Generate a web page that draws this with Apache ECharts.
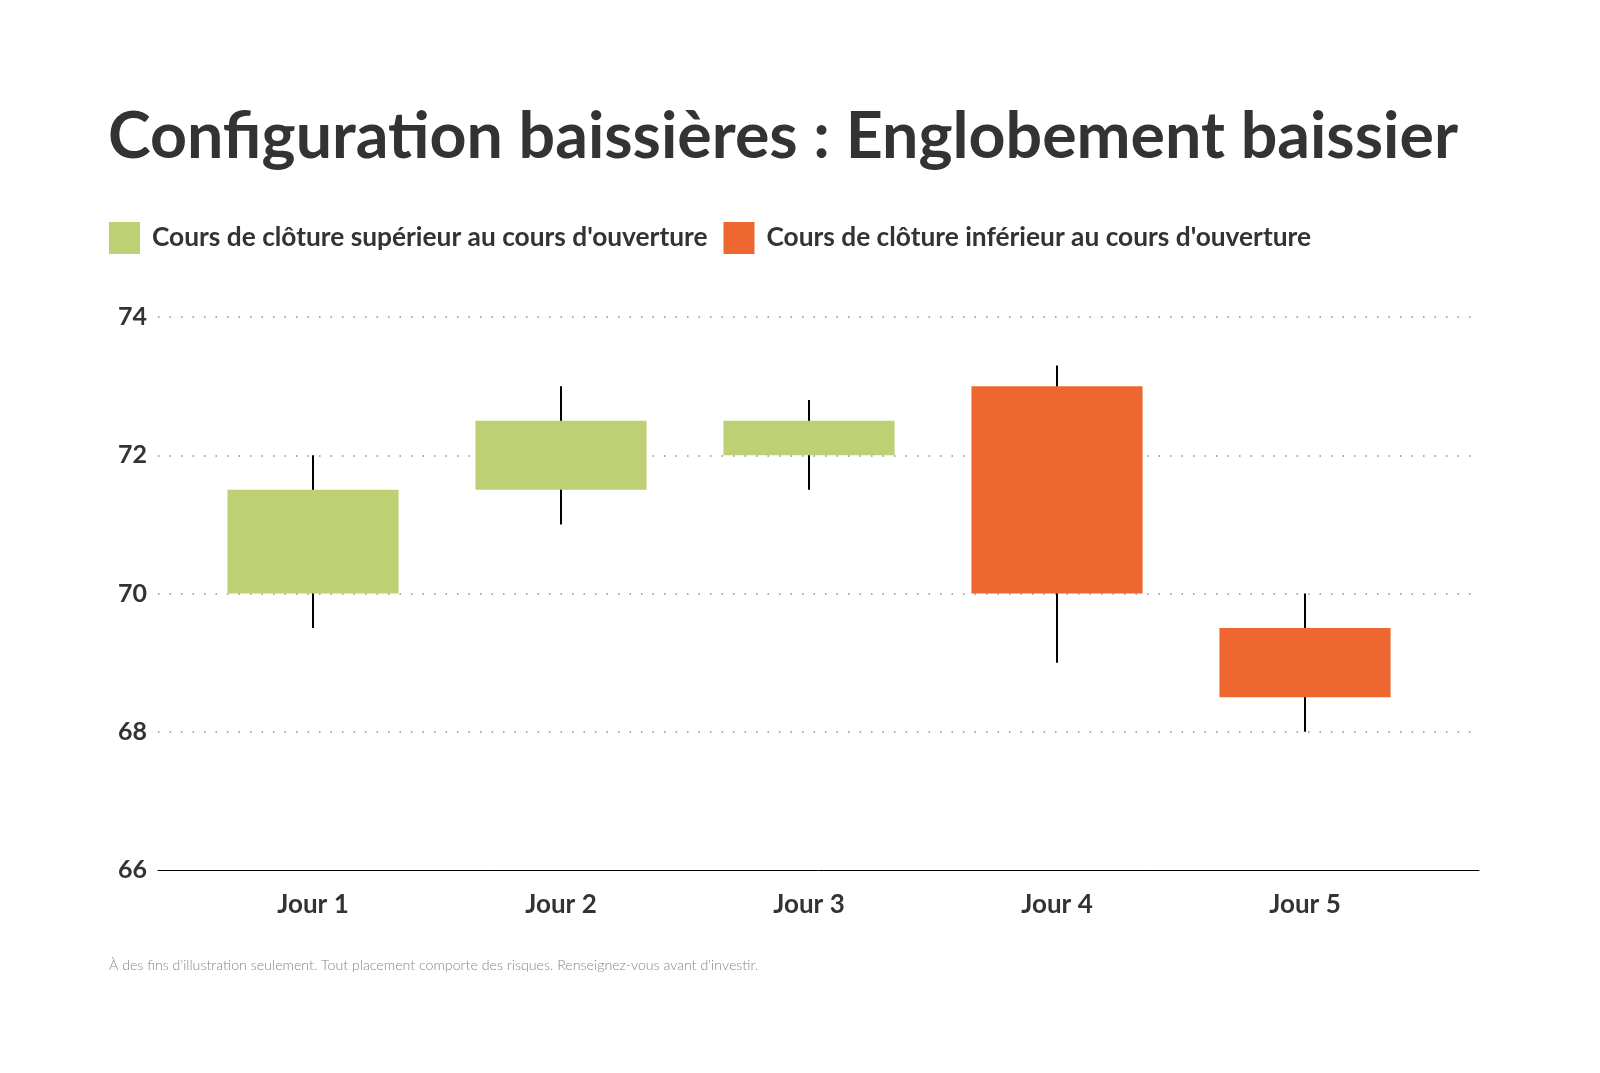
<!DOCTYPE html>
<html>
<head>
<meta charset="utf-8">
<title>Configuration baissières : Englobement baissier</title>
<script src="https://cdn.jsdelivr.net/npm/echarts@6/dist/echarts.min.js"></script>
<style>
  html, body { margin: 0; padding: 0; background: #fff; }
  #chart { width: 1600px; height: 1073px; }
</style>
</head>
<body>
<div id="chart"></div>
<script>
// chart values
const days = ["Jour 1", "Jour 2", "Jour 3", "Jour 4", "Jour 5"];
const openValues = [70, 71.5, 72, 73, 69.5];
const closeValues = [71.5, 72.5, 72.5, 70, 68.5];
const lowValues = [69.5, 71, 71.5, 69, 68];
const highValues = [72, 73, 72.8, 73.3, 70];
const yTicks = [66, 68, 70, 72, 74];

const upName = "Cours de clôture supérieur au cours d'ouverture";
const downName = "Cours de clôture inférieur au cours d'ouverture";
const upColor = "#BDD074";
const downColor = "#EE6731";
const textColor = "#333333";
const font = "Lato, 'Noto Sans', sans-serif";

// rows: [day, open, close, low, high]
const upRows = [];
const downRows = [];
days.forEach((d, i) => {
  const row = [d, openValues[i], closeValues[i], lowValues[i], highValues[i]];
  (closeValues[i] >= openValues[i] ? upRows : downRows).push(row);
});

function renderCandle(params, api) {
  const x = api.value(0);
  const o = api.coord([x, api.value(1)]);
  const c = api.coord([x, api.value(2)]);
  const lo = api.coord([x, api.value(3)]);
  const hi = api.coord([x, api.value(4)]);
  const w = api.size([1, 0])[0] * 0.69;
  return {
    type: "group",
    children: [
      {
        type: "line",
        shape: { x1: lo[0], y1: lo[1], x2: hi[0], y2: hi[1] },
        style: { stroke: "#000", lineWidth: 2 }
      },
      {
        type: "rect",
        shape: {
          x: o[0] - w / 2,
          y: Math.min(o[1], c[1]),
          width: w,
          height: Math.abs(o[1] - c[1])
        },
        style: { fill: api.visual("color") }
      }
    ]
  };
}

const yMin = yTicks[0];
const yMax = yTicks[yTicks.length - 1];
const yStep = yTicks[1] - yTicks[0];

const chart = echarts.init(document.getElementById("chart"), null, { renderer: "canvas" });

chart.setOption({
  backgroundColor: "#ffffff",
  animation: false,
  textStyle: { fontFamily: font },
  title: [
    {
      text: "Configuration baissières : Englobement baissier",
      left: 103,
      top: 100,
      textStyle: { fontFamily: font, fontSize: 64.5, fontWeight: "bold", color: textColor }
    },
    {
      text: "À des fins d'illustration seulement. Tout placement comporte des risques. Renseignez-vous avant d'investir.",
      left: 104,
      top: 953,
      textStyle: { fontFamily: font, fontSize: 14.2, fontWeight: 300, color: "#858585" }
    }
  ],
  legend: {
    left: 104,
    top: 217,
    itemWidth: 31,
    itemHeight: 32,
    itemGap: 16,
    icon: "rect",
    data: [upName, downName],
    textStyle: {
      fontFamily: font,
      fontSize: 26.3,
      fontWeight: "bold",
      color: textColor,
      padding: [4, 0, 0, 7]
    }
  },
  grid: [
    { left: 158, right: 121, top: 317, bottom: 203 },
    { left: 189, right: 171, top: 317, bottom: 203 }
  ],
  xAxis: [
    {
      gridIndex: 0,
      type: "value",
      min: 0,
      max: 1,
      axisLine: { show: true, onZero: false, lineStyle: { color: "#000", width: 1 } },
      axisTick: { show: false },
      axisLabel: { show: false },
      splitLine: { show: false }
    },
    {
      gridIndex: 1,
      type: "category",
      data: days,
      boundaryGap: true,
      axisLine: { show: false },
      axisTick: { show: false },
      axisLabel: {
        margin: 22,
        fontFamily: font,
        fontSize: 26,
        fontWeight: "bold",
        color: textColor
      }
    }
  ],
  yAxis: [
    {
      gridIndex: 0,
      type: "value",
      min: yMin,
      max: yMax,
      interval: yStep,
      axisLine: { show: false },
      axisTick: { show: false },
      axisLabel: {
        margin: 11,
        fontFamily: font,
        fontSize: 25,
        fontWeight: "bold",
        color: textColor
      },
      splitLine: {
        show: true,
        showMinLine: false,
        lineStyle: { color: "#8f8f8f", width: 1.5, type: [1.5, 10] }
      }
    },
    {
      gridIndex: 1,
      type: "value",
      min: yMin,
      max: yMax,
      interval: yStep,
      show: false,
      splitLine: { show: false }
    }
  ],
  series: [
    {
      name: upName,
      type: "custom",
      xAxisIndex: 1,
      yAxisIndex: 1,
      itemStyle: { color: upColor },
      encode: { x: 0, y: [1, 2, 3, 4] },
      renderItem: renderCandle,
      data: upRows
    },
    {
      name: downName,
      type: "custom",
      xAxisIndex: 1,
      yAxisIndex: 1,
      itemStyle: { color: downColor },
      encode: { x: 0, y: [1, 2, 3, 4] },
      renderItem: renderCandle,
      data: downRows
    }
  ]
});

window.addEventListener("resize", () => chart.resize());
</script>
</body>
</html>
